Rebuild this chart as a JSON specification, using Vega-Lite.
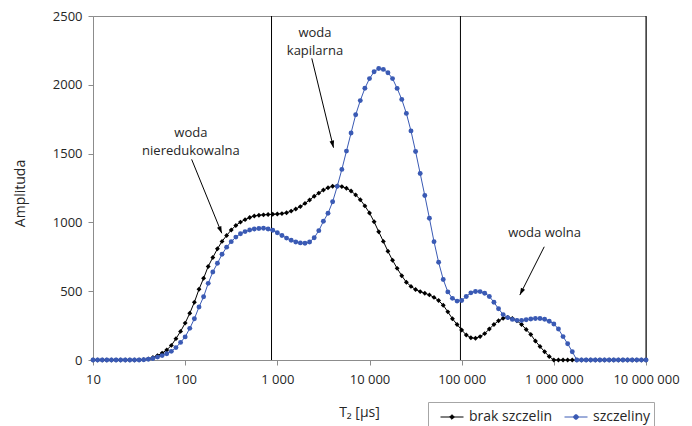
{
"$schema": "https://vega.github.io/schema/vega-lite/v6.json",
"width": 553, "height": 344,
"autosize": {"type": "none"},
"padding": {"left": 93, "top": 16, "right": 46, "bottom": 66},
"background": "white",
"config": {
  "font": "Open Sans",
  "view": {"stroke": "#8c8c8c", "strokeWidth": 1},
  "locale": {"number": {"decimal": ",", "thousands": " ", "grouping": [3], "currency": ["", ""]}},
  "axis": {"domainColor": "#8c8c8c", "tickColor": "#8c8c8c", "labelColor": "#262626", "titleColor": "#262626", "labelFont": "Open Sans", "titleFont": "Open Sans", "labelFontSize": 13, "titleFontSize": 14, "titleFontWeight": "normal", "grid": false, "tickSize": 5},
  "legend": {"orient": "none", "legendX": 335, "legendY": 386, "direction": "horizontal",
    "strokeColor": "#a6a6a6", "padding": 3, "labelFont": "Open Sans", "labelFontSize": 14, "labelColor": "#262626",
    "symbolSize": 529, "symbolOffset": 9, "labelOffset": 5, "columnPadding": 2, "symbolStrokeWidth": 1}
},
"data": {"values": [
{"t":10,"s":"brak szczelin","a":0},{"t":11.22,"s":"brak szczelin","a":0},{"t":12.59,"s":"brak szczelin","a":0},{"t":14.13,"s":"brak szczelin","a":0},{"t":15.85,"s":"brak szczelin","a":0},{"t":17.78,"s":"brak szczelin","a":0},{"t":19.95,"s":"brak szczelin","a":0},{"t":22.39,"s":"brak szczelin","a":0},{"t":25.12,"s":"brak szczelin","a":0},{"t":28.18,"s":"brak szczelin","a":0},{"t":31.62,"s":"brak szczelin","a":1},{"t":35.48,"s":"brak szczelin","a":3},{"t":39.81,"s":"brak szczelin","a":8},{"t":44.67,"s":"brak szczelin","a":18},{"t":50.12,"s":"brak szczelin","a":32},{"t":56.23,"s":"brak szczelin","a":50},{"t":63.1,"s":"brak szczelin","a":73},{"t":70.79,"s":"brak szczelin","a":106},{"t":79.43,"s":"brak szczelin","a":155},{"t":89.13,"s":"brak szczelin","a":208},
{"t":100,"s":"brak szczelin","a":268},{"t":112.2,"s":"brak szczelin","a":340},{"t":125.9,"s":"brak szczelin","a":420},{"t":141.3,"s":"brak szczelin","a":514},{"t":158.5,"s":"brak szczelin","a":594},{"t":177.8,"s":"brak szczelin","a":680},{"t":199.5,"s":"brak szczelin","a":745},{"t":223.9,"s":"brak szczelin","a":808},{"t":251.2,"s":"brak szczelin","a":862},{"t":281.8,"s":"brak szczelin","a":905},{"t":316.2,"s":"brak szczelin","a":945},{"t":354.8,"s":"brak szczelin","a":978},{"t":398.1,"s":"brak szczelin","a":1002},{"t":446.7,"s":"brak szczelin","a":1020},{"t":501.2,"s":"brak szczelin","a":1036},{"t":562.3,"s":"brak szczelin","a":1046},{"t":631,"s":"brak szczelin","a":1052},{"t":707.9,"s":"brak szczelin","a":1055},{"t":794.3,"s":"brak szczelin","a":1057},{"t":891.3,"s":"brak szczelin","a":1059},
{"t":1000,"s":"brak szczelin","a":1061},{"t":1122,"s":"brak szczelin","a":1064},{"t":1259,"s":"brak szczelin","a":1070},{"t":1413,"s":"brak szczelin","a":1082},{"t":1585,"s":"brak szczelin","a":1097},{"t":1778,"s":"brak szczelin","a":1115},{"t":1995,"s":"brak szczelin","a":1138},{"t":2239,"s":"brak szczelin","a":1163},{"t":2512,"s":"brak szczelin","a":1190},{"t":2818,"s":"brak szczelin","a":1213},{"t":3162,"s":"brak szczelin","a":1235},{"t":3548,"s":"brak szczelin","a":1252},{"t":3981,"s":"brak szczelin","a":1263},{"t":4467,"s":"brak szczelin","a":1265},{"t":5012,"s":"brak szczelin","a":1260},{"t":5623,"s":"brak szczelin","a":1248},{"t":6310,"s":"brak szczelin","a":1228},{"t":7079,"s":"brak szczelin","a":1200},{"t":7943,"s":"brak szczelin","a":1165},{"t":8913,"s":"brak szczelin","a":1120},
{"t":10000,"s":"brak szczelin","a":1068},{"t":11220,"s":"brak szczelin","a":1005},{"t":12590,"s":"brak szczelin","a":932},{"t":14130,"s":"brak szczelin","a":862},{"t":15850,"s":"brak szczelin","a":790},{"t":17780,"s":"brak szczelin","a":725},{"t":19950,"s":"brak szczelin","a":666},{"t":22390,"s":"brak szczelin","a":612},{"t":25120,"s":"brak szczelin","a":565},{"t":28180,"s":"brak szczelin","a":535},{"t":31620,"s":"brak szczelin","a":512},{"t":35480,"s":"brak szczelin","a":497},{"t":39810,"s":"brak szczelin","a":485},{"t":44670,"s":"brak szczelin","a":473},{"t":50120,"s":"brak szczelin","a":455},{"t":56230,"s":"brak szczelin","a":432},{"t":63100,"s":"brak szczelin","a":398},{"t":70790,"s":"brak szczelin","a":350},{"t":79430,"s":"brak szczelin","a":300},{"t":89130,"s":"brak szczelin","a":258},
{"t":100000,"s":"brak szczelin","a":218},{"t":112200,"s":"brak szczelin","a":182},{"t":125900,"s":"brak szczelin","a":162},{"t":141300,"s":"brak szczelin","a":158},{"t":158500,"s":"brak szczelin","a":170},{"t":177800,"s":"brak szczelin","a":192},{"t":199500,"s":"brak szczelin","a":225},{"t":223900,"s":"brak szczelin","a":258},{"t":251200,"s":"brak szczelin","a":285},{"t":281800,"s":"brak szczelin","a":303},{"t":316200,"s":"brak szczelin","a":310},{"t":354800,"s":"brak szczelin","a":302},{"t":398100,"s":"brak szczelin","a":285},{"t":446700,"s":"brak szczelin","a":258},{"t":501200,"s":"brak szczelin","a":222},{"t":562300,"s":"brak szczelin","a":185},{"t":631000,"s":"brak szczelin","a":138},{"t":707900,"s":"brak szczelin","a":98},{"t":794300,"s":"brak szczelin","a":60},{"t":891300,"s":"brak szczelin","a":25},
{"t":1000000,"s":"brak szczelin","a":0},{"t":1122000,"s":"brak szczelin","a":0},{"t":1259000,"s":"brak szczelin","a":0},{"t":1413000,"s":"brak szczelin","a":0},{"t":1585000,"s":"brak szczelin","a":0},{"t":1778000,"s":"brak szczelin","a":0},{"t":1995000,"s":"brak szczelin","a":0},{"t":2239000,"s":"brak szczelin","a":0},{"t":2512000,"s":"brak szczelin","a":0},{"t":2818000,"s":"brak szczelin","a":0},{"t":3162000,"s":"brak szczelin","a":0},{"t":3548000,"s":"brak szczelin","a":0},{"t":3981000,"s":"brak szczelin","a":0},{"t":4467000,"s":"brak szczelin","a":0},{"t":5012000,"s":"brak szczelin","a":0},{"t":5623000,"s":"brak szczelin","a":0},{"t":6310000,"s":"brak szczelin","a":0},{"t":7079000,"s":"brak szczelin","a":0},{"t":7943000,"s":"brak szczelin","a":0},{"t":8913000,"s":"brak szczelin","a":0},{"t":10000000,"s":"brak szczelin","a":0},
{"t":10,"s":"szczeliny","a":0},{"t":11.22,"s":"szczeliny","a":0},{"t":12.59,"s":"szczeliny","a":0},{"t":14.13,"s":"szczeliny","a":0},{"t":15.85,"s":"szczeliny","a":0},{"t":17.78,"s":"szczeliny","a":0},{"t":19.95,"s":"szczeliny","a":0},{"t":22.39,"s":"szczeliny","a":0},{"t":25.12,"s":"szczeliny","a":0},{"t":28.18,"s":"szczeliny","a":0},{"t":31.62,"s":"szczeliny","a":0},{"t":35.48,"s":"szczeliny","a":2},{"t":39.81,"s":"szczeliny","a":5},{"t":44.67,"s":"szczeliny","a":11},{"t":50.12,"s":"szczeliny","a":21},{"t":56.23,"s":"szczeliny","a":32},{"t":63.1,"s":"szczeliny","a":45},{"t":70.79,"s":"szczeliny","a":63},{"t":79.43,"s":"szczeliny","a":90},{"t":89.13,"s":"szczeliny","a":128},
{"t":100,"s":"szczeliny","a":168},{"t":112.2,"s":"szczeliny","a":230},{"t":125.9,"s":"szczeliny","a":300},{"t":141.3,"s":"szczeliny","a":385},{"t":158.5,"s":"szczeliny","a":460},{"t":177.8,"s":"szczeliny","a":557},{"t":199.5,"s":"szczeliny","a":640},{"t":223.9,"s":"szczeliny","a":703},{"t":251.2,"s":"szczeliny","a":768},{"t":281.8,"s":"szczeliny","a":820},{"t":316.2,"s":"szczeliny","a":860},{"t":354.8,"s":"szczeliny","a":893},{"t":398.1,"s":"szczeliny","a":918},{"t":446.7,"s":"szczeliny","a":933},{"t":501.2,"s":"szczeliny","a":945},{"t":562.3,"s":"szczeliny","a":952},{"t":631,"s":"szczeliny","a":956},{"t":707.9,"s":"szczeliny","a":957},{"t":794.3,"s":"szczeliny","a":952},{"t":891.3,"s":"szczeliny","a":943},
{"t":1000,"s":"szczeliny","a":925},{"t":1122,"s":"szczeliny","a":905},{"t":1259,"s":"szczeliny","a":886},{"t":1413,"s":"szczeliny","a":870},{"t":1585,"s":"szczeliny","a":858},{"t":1778,"s":"szczeliny","a":851},{"t":1995,"s":"szczeliny","a":848},{"t":2239,"s":"szczeliny","a":858},{"t":2512,"s":"szczeliny","a":888},{"t":2818,"s":"szczeliny","a":940},{"t":3162,"s":"szczeliny","a":1008},{"t":3548,"s":"szczeliny","a":1066},{"t":3981,"s":"szczeliny","a":1150},{"t":4467,"s":"szczeliny","a":1262},{"t":5012,"s":"szczeliny","a":1385},{"t":5623,"s":"szczeliny","a":1518},{"t":6310,"s":"szczeliny","a":1650},{"t":7079,"s":"szczeliny","a":1782},{"t":7943,"s":"szczeliny","a":1885},{"t":8913,"s":"szczeliny","a":1975},
{"t":10000,"s":"szczeliny","a":2045},{"t":11220,"s":"szczeliny","a":2095},{"t":12590,"s":"szczeliny","a":2118},{"t":14130,"s":"szczeliny","a":2112},{"t":15850,"s":"szczeliny","a":2088},{"t":17780,"s":"szczeliny","a":2045},{"t":19950,"s":"szczeliny","a":1974},{"t":22390,"s":"szczeliny","a":1894},{"t":25120,"s":"szczeliny","a":1792},{"t":28180,"s":"szczeliny","a":1665},{"t":31620,"s":"szczeliny","a":1515},{"t":35480,"s":"szczeliny","a":1355},{"t":39810,"s":"szczeliny","a":1195},{"t":44670,"s":"szczeliny","a":1030},{"t":50120,"s":"szczeliny","a":860},{"t":56230,"s":"szczeliny","a":710},{"t":63100,"s":"szczeliny","a":585},{"t":70790,"s":"szczeliny","a":495},{"t":79430,"s":"szczeliny","a":448},{"t":89130,"s":"szczeliny","a":428},
{"t":100000,"s":"szczeliny","a":432},{"t":112200,"s":"szczeliny","a":462},{"t":125900,"s":"szczeliny","a":488},{"t":141300,"s":"szczeliny","a":498},{"t":158500,"s":"szczeliny","a":497},{"t":177800,"s":"szczeliny","a":485},{"t":199500,"s":"szczeliny","a":462},{"t":223900,"s":"szczeliny","a":420},{"t":251200,"s":"szczeliny","a":372},{"t":281800,"s":"szczeliny","a":330},{"t":316200,"s":"szczeliny","a":308},{"t":354800,"s":"szczeliny","a":295},{"t":398100,"s":"szczeliny","a":288},{"t":446700,"s":"szczeliny","a":287},{"t":501200,"s":"szczeliny","a":292},{"t":562300,"s":"szczeliny","a":298},{"t":631000,"s":"szczeliny","a":302},{"t":707900,"s":"szczeliny","a":302},{"t":794300,"s":"szczeliny","a":296},{"t":891300,"s":"szczeliny","a":282},
{"t":1000000,"s":"szczeliny","a":262},{"t":1122000,"s":"szczeliny","a":225},{"t":1259000,"s":"szczeliny","a":170},{"t":1413000,"s":"szczeliny","a":118},{"t":1585000,"s":"szczeliny","a":60},{"t":1778000,"s":"szczeliny","a":0},{"t":1995000,"s":"szczeliny","a":0},{"t":2239000,"s":"szczeliny","a":0},{"t":2512000,"s":"szczeliny","a":0},{"t":2818000,"s":"szczeliny","a":0},{"t":3162000,"s":"szczeliny","a":0},{"t":3548000,"s":"szczeliny","a":0},{"t":3981000,"s":"szczeliny","a":0},{"t":4467000,"s":"szczeliny","a":0},{"t":5012000,"s":"szczeliny","a":0},{"t":5623000,"s":"szczeliny","a":0},{"t":6310000,"s":"szczeliny","a":0},{"t":7079000,"s":"szczeliny","a":0},{"t":7943000,"s":"szczeliny","a":0},{"t":8913000,"s":"szczeliny","a":0},{"t":10000000,"s":"szczeliny","a":0}
]},
"layer": [
  {
    "data": {"values": [{"t": 865}, {"t": 97000}, {"t": 10000000}]},
    "mark": {"type": "rule", "color": "#000000", "strokeWidth": 1},
    "encoding": {"x": {"field": "t", "type": "quantitative"}}
  },
  {
    "mark": {"type": "line", "strokeWidth": 1},
    "encoding": {
      "x": {"field": "t", "type": "quantitative",
        "scale": {"type": "log", "domain": [10, 10000000], "nice": false},
        "axis": {"values": [10, 100, 1000, 10000, 100000, 1000000, 10000000], "format": ",d", "title": "T₂ [µs]", "labelPadding": 8, "labelOverlap": false, "labelBound": false, "labelFlush": false, "titleX": 266, "titleY": 52, "titleBaseline": "middle", "titleAlign": "center"}},
      "y": {"field": "a", "type": "quantitative",
        "scale": {"domain": [0, 2500], "nice": false},
        "axis": {"values": [0, 500, 1000, 1500, 2000, 2500], "format": "d", "title": "Amplituda", "labelPadding": 6, "labelFlush": false, "titleX": -73, "titleY": 177, "titleAngle": -90, "titleAlign": "center", "titleBaseline": "middle"}},
      "color": {"field": "s", "type": "nominal", "scale": {"domain": ["brak szczelin", "szczeliny"], "range": ["#000000", "#3A5AB4"]},
        "legend": {"title": null,
          "encode": {"symbols": {"update": {
            "shape": {"signal": "datum.value === 'brak szczelin' ? 'M-1,0H1M0,-0.2L0.2,0L0,0.2L-0.2,0Z' : 'M-1,0H1M-0.2,0A0.2,0.2,0,1,0,0.2,0A0.2,0.2,0,1,0,-0.2,0Z'"},
            "fill": {"scale": "color", "field": "value"},
            "stroke": {"scale": "color", "field": "value"},
            "strokeWidth": {"value": 1}
          }}}}}
    }
  },
  {
    "transform": [{"filter": "datum.s === 'brak szczelin'"}],
    "mark": {"type": "point", "filled": true, "size": 24, "opacity": 1, "shape": "diamond"},
    "encoding": {
      "x": {"field": "t", "type": "quantitative"},
      "y": {"field": "a", "type": "quantitative"},
      "color": {"field": "s", "type": "nominal"}
    }
  },
  {
    "transform": [{"filter": "datum.s === 'szczeliny'"}],
    "mark": {"type": "point", "filled": true, "size": 24, "opacity": 1, "shape": "circle"},
    "encoding": {
      "x": {"field": "t", "type": "quantitative"},
      "y": {"field": "a", "type": "quantitative"},
      "color": {"field": "s", "type": "nominal"}
    }
  },
  {
    "data": {"values": [
      {"t": 115.3, "a": 1650, "label": "woda"},
      {"t": 115.3, "a": 1522, "label": "nieredukowalna"},
      {"t": 2560, "a": 2379, "label": "woda"},
      {"t": 2560, "a": 2248, "label": "kapilarna"},
      {"t": 794000, "a": 921, "label": "woda wolna"}
    ]},
    "mark": {"type": "text", "font": "Open Sans", "fontSize": 13, "color": "#262626", "align": "center", "baseline": "middle"},
    "encoding": {"x": {"field": "t", "type": "quantitative"}, "y": {"field": "a", "type": "quantitative"}, "text": {"field": "label"}}
  },
  {
    "data": {"values": [
      {"t": 117.6, "a": 1458, "t2": 249.5, "a2": 921},
      {"t": 2366, "a": 2192, "t2": 4069, "a2": 1543},
      {"t": 787000, "a": 823, "t2": 427600, "a2": 472}
    ]},
    "mark": {"type": "rule", "color": "#000000", "strokeWidth": 1},
    "encoding": {"x": {"field": "t", "type": "quantitative"}, "y": {"field": "a", "type": "quantitative"}, "x2": {"field": "t2"}, "y2": {"field": "a2"}}
  },
  {
    "data": {"values": [
      {"t": 249.5, "a": 921, "ang": 158},
      {"t": 4069, "a": 1543, "ang": 166},
      {"t": 427600, "a": 472, "ang": 207}
    ]},
    "mark": {"type": "point", "filled": true, "color": "#000000", "opacity": 1, "size": 196, "shape": "M0,0L0.33,1L-0.33,1Z"},
    "encoding": {"x": {"field": "t", "type": "quantitative"}, "y": {"field": "a", "type": "quantitative"}, "angle": {"field": "ang", "type": "quantitative", "scale": null}}
  }
]
}
